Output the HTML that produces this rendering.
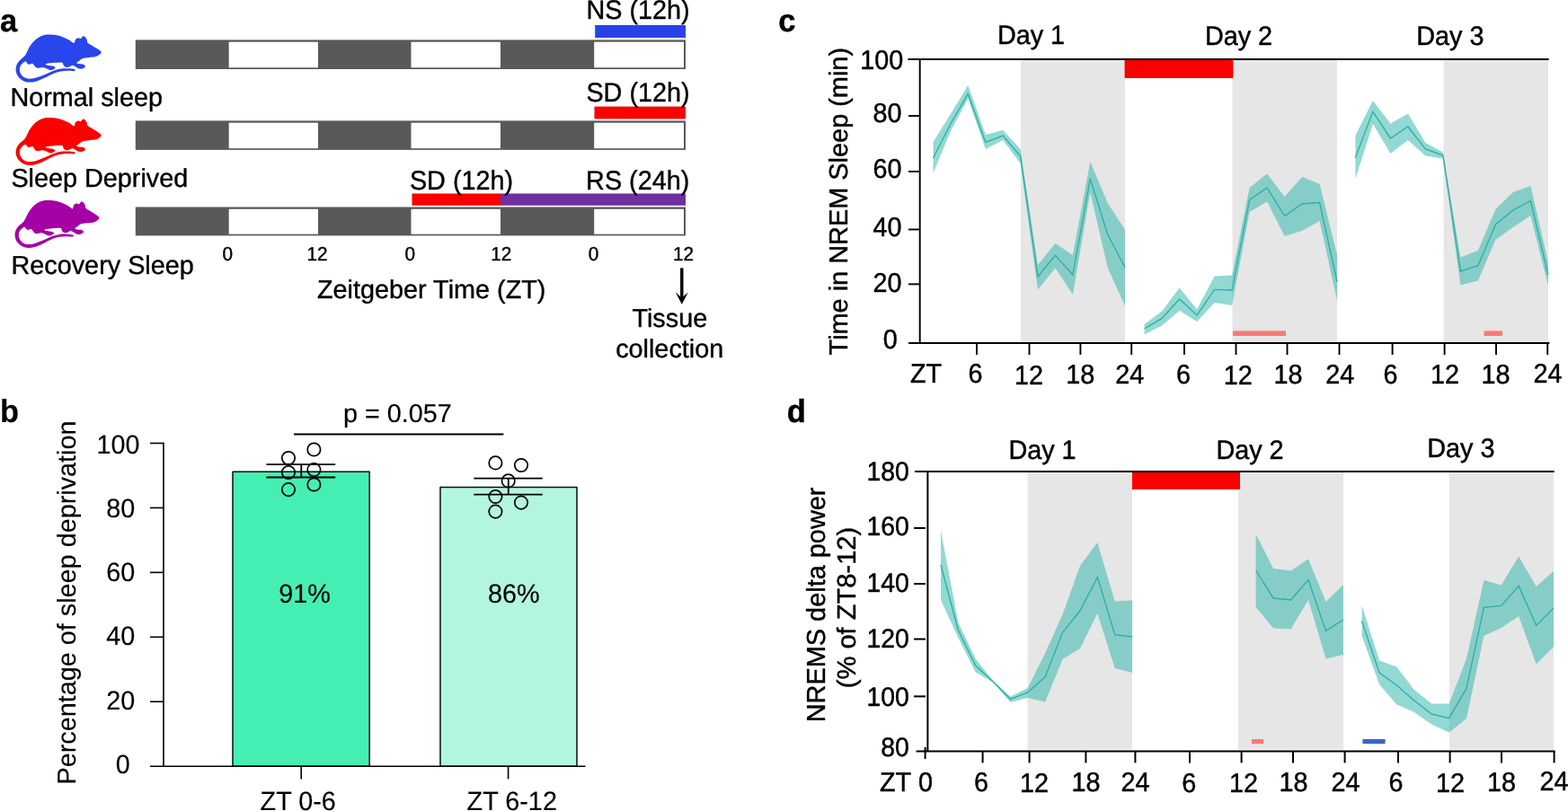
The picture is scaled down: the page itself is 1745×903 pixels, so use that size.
<!DOCTYPE html>
<html lang="en"><head><meta charset="utf-8"><title>Sleep deprivation figure</title>
<style>
html,body{margin:0;padding:0;background:#fff;}
body{width:1745px;height:903px;overflow:hidden;}
svg{display:block;}
text{font-family:"Liberation Sans", sans-serif;fill:#000;stroke:#000;stroke-width:0.38px;stroke-linejoin:round;text-rendering:geometricPrecision;}
#panel-b text{stroke-width:0.15px;}
#panel-c text,#panel-d text{stroke-width:0.45px;}
</style></head><body>
<svg width="1745" height="903" viewBox="0 0 1745 903">
<rect x="0" y="0" width="1745" height="903" fill="#fff"/>
<g id="panel-a">
<text font-size="34.5" text-anchor="start" font-weight="bold" transform="translate(0 35) scale(1 1.03)">a</text>
<rect x="150.80" y="44.40" width="612.20" height="32.60" fill="#595959"/>
<rect x="254.70" y="46.70" width="99.30" height="28.60" fill="#fff"/>
<rect x="457.50" y="46.70" width="99.50" height="28.60" fill="#fff"/>
<rect x="661.20" y="46.70" width="99.80" height="28.60" fill="#fff"/>
<rect x="150.80" y="134.40" width="612.20" height="32.50" fill="#595959"/>
<rect x="254.70" y="136.70" width="99.30" height="28.50" fill="#fff"/>
<rect x="457.50" y="136.70" width="99.50" height="28.50" fill="#fff"/>
<rect x="661.20" y="136.70" width="99.80" height="28.50" fill="#fff"/>
<rect x="150.80" y="230.50" width="612.20" height="31.90" fill="#595959"/>
<rect x="254.70" y="232.80" width="99.30" height="27.90" fill="#fff"/>
<rect x="457.50" y="232.80" width="99.50" height="27.90" fill="#fff"/>
<rect x="661.20" y="232.80" width="99.80" height="27.90" fill="#fff"/>
<path d="M1622.0 355.0C1617.8 337.5 1585.3 318.3 1560.0 300.0C1534.7 281.7 1500.0 263.3 1470.0 245.0C1440.0 226.7 1397.0 207.5 1380.0 190.0C1363.0 172.5 1374.7 156.7 1368.0 140.0C1361.3 123.3 1351.3 102.0 1340.0 90.0C1328.7 78.0 1312.0 67.2 1300.0 68.0C1288.0 68.8 1275.0 87.7 1268.0 95.0C1261.0 102.3 1268.5 111.2 1258.0 112.0C1247.5 112.8 1221.3 97.0 1205.0 100.0C1188.7 103.0 1171.7 114.2 1160.0 130.0C1148.3 145.8 1151.7 192.5 1135.0 195.0C1118.3 197.5 1089.2 161.7 1060.0 145.0C1030.8 128.3 995.0 109.5 960.0 95.0C925.0 80.5 890.0 66.8 850.0 58.0C810.0 49.2 761.7 43.3 720.0 42.0C678.3 40.7 636.7 41.7 600.0 50.0C563.3 58.3 531.7 72.8 500.0 92.0C468.3 111.2 436.7 137.8 410.0 165.0C383.3 192.2 360.0 223.3 340.0 255.0C320.0 286.7 305.0 326.7 290.0 355.0C275.0 383.3 270.0 401.7 250.0 425.0C230.0 448.3 193.0 470.8 170.0 495.0C147.0 519.2 125.3 542.5 112.0 570.0C98.7 597.5 90.7 630.0 90.0 660.0C89.3 690.0 96.7 723.0 108.0 750.0C119.3 777.0 137.7 801.5 158.0 822.0C178.3 842.5 201.3 860.7 230.0 873.0C258.7 885.3 293.3 894.5 330.0 896.0C366.7 897.5 405.0 894.7 450.0 882.0C495.0 869.3 545.0 845.0 600.0 820.0C655.0 795.0 730.0 752.0 780.0 732.0C830.0 712.0 860.0 707.0 900.0 700.0C940.0 693.0 979.7 691.0 1020.0 690.0C1060.3 689.0 1121.7 698.7 1142.0 694.0C1162.3 689.3 1162.3 669.3 1142.0 662.0C1121.7 654.7 1060.3 651.3 1020.0 650.0C979.7 648.7 940.0 648.3 900.0 654.0C860.0 659.7 823.3 668.8 780.0 684.0C736.7 699.2 690.0 724.3 640.0 745.0C590.0 765.7 530.0 793.2 480.0 808.0C430.0 822.8 380.0 834.0 340.0 834.0C300.0 834.0 266.3 822.3 240.0 808.0C213.7 793.7 195.3 769.3 182.0 748.0C168.7 726.7 160.3 706.3 160.0 680.0C159.7 653.7 163.0 616.3 180.0 590.0C197.0 563.7 242.8 527.0 262.0 522.0C281.2 517.0 282.8 551.2 295.0 560.0C307.2 568.8 321.7 575.0 335.0 575.0C348.3 575.0 363.8 560.8 375.0 560.0C386.2 559.2 391.2 559.7 402.0 570.0C412.8 580.3 426.2 610.0 440.0 622.0C453.8 634.0 465.0 641.0 485.0 642.0C505.0 643.0 537.5 628.0 560.0 628.0C582.5 628.0 594.2 633.3 620.0 642.0C645.8 650.7 685.3 680.3 715.0 680.0C744.7 679.7 790.2 652.3 798.0 640.0C805.8 627.7 780.0 613.5 762.0 606.0C744.0 598.5 711.2 598.8 690.0 595.0C668.8 591.2 643.3 588.3 635.0 583.0C626.7 577.7 615.8 569.2 640.0 563.0C664.2 556.8 733.3 549.3 780.0 546.0C826.7 542.7 892.5 535.7 920.0 543.0C947.5 550.3 934.2 576.5 945.0 590.0C955.8 603.5 969.2 618.7 985.0 624.0C1000.8 629.3 1023.3 626.0 1040.0 622.0C1056.7 618.0 1072.5 604.7 1085.0 600.0C1097.5 595.3 1101.7 590.3 1115.0 594.0C1128.3 597.7 1145.0 612.0 1165.0 622.0C1185.0 632.0 1211.7 650.3 1235.0 654.0C1258.3 657.7 1288.0 651.7 1305.0 644.0C1322.0 636.3 1337.0 619.3 1337.0 608.0C1337.0 596.7 1321.2 582.3 1305.0 576.0C1288.8 569.7 1259.2 573.0 1240.0 570.0C1220.8 567.0 1199.7 562.5 1190.0 558.0C1180.3 553.5 1175.3 551.0 1182.0 543.0C1188.7 535.0 1212.8 522.2 1230.0 510.0C1247.2 497.8 1256.7 480.0 1285.0 470.0C1313.3 460.0 1362.5 455.0 1400.0 450.0C1437.5 445.0 1479.2 447.5 1510.0 440.0C1540.8 432.5 1566.3 419.2 1585.0 405.0C1603.7 390.8 1626.2 372.5 1622.0 355.0Z" fill="#2846EB" transform="translate(12 36) scale(0.06203 0.06203)"/>
<path d="M1622.0 355.0C1617.8 337.5 1585.3 318.3 1560.0 300.0C1534.7 281.7 1500.0 263.3 1470.0 245.0C1440.0 226.7 1397.0 207.5 1380.0 190.0C1363.0 172.5 1374.7 156.7 1368.0 140.0C1361.3 123.3 1351.3 102.0 1340.0 90.0C1328.7 78.0 1312.0 67.2 1300.0 68.0C1288.0 68.8 1275.0 87.7 1268.0 95.0C1261.0 102.3 1268.5 111.2 1258.0 112.0C1247.5 112.8 1221.3 97.0 1205.0 100.0C1188.7 103.0 1171.7 114.2 1160.0 130.0C1148.3 145.8 1151.7 192.5 1135.0 195.0C1118.3 197.5 1089.2 161.7 1060.0 145.0C1030.8 128.3 995.0 109.5 960.0 95.0C925.0 80.5 890.0 66.8 850.0 58.0C810.0 49.2 761.7 43.3 720.0 42.0C678.3 40.7 636.7 41.7 600.0 50.0C563.3 58.3 531.7 72.8 500.0 92.0C468.3 111.2 436.7 137.8 410.0 165.0C383.3 192.2 360.0 223.3 340.0 255.0C320.0 286.7 305.0 326.7 290.0 355.0C275.0 383.3 270.0 401.7 250.0 425.0C230.0 448.3 193.0 470.8 170.0 495.0C147.0 519.2 125.3 542.5 112.0 570.0C98.7 597.5 90.7 630.0 90.0 660.0C89.3 690.0 96.7 723.0 108.0 750.0C119.3 777.0 137.7 801.5 158.0 822.0C178.3 842.5 201.3 860.7 230.0 873.0C258.7 885.3 293.3 894.5 330.0 896.0C366.7 897.5 405.0 894.7 450.0 882.0C495.0 869.3 545.0 845.0 600.0 820.0C655.0 795.0 730.0 752.0 780.0 732.0C830.0 712.0 860.0 707.0 900.0 700.0C940.0 693.0 979.7 691.0 1020.0 690.0C1060.3 689.0 1121.7 698.7 1142.0 694.0C1162.3 689.3 1162.3 669.3 1142.0 662.0C1121.7 654.7 1060.3 651.3 1020.0 650.0C979.7 648.7 940.0 648.3 900.0 654.0C860.0 659.7 823.3 668.8 780.0 684.0C736.7 699.2 690.0 724.3 640.0 745.0C590.0 765.7 530.0 793.2 480.0 808.0C430.0 822.8 380.0 834.0 340.0 834.0C300.0 834.0 266.3 822.3 240.0 808.0C213.7 793.7 195.3 769.3 182.0 748.0C168.7 726.7 160.3 706.3 160.0 680.0C159.7 653.7 163.0 616.3 180.0 590.0C197.0 563.7 242.8 527.0 262.0 522.0C281.2 517.0 282.8 551.2 295.0 560.0C307.2 568.8 321.7 575.0 335.0 575.0C348.3 575.0 363.8 560.8 375.0 560.0C386.2 559.2 391.2 559.7 402.0 570.0C412.8 580.3 426.2 610.0 440.0 622.0C453.8 634.0 465.0 641.0 485.0 642.0C505.0 643.0 537.5 628.0 560.0 628.0C582.5 628.0 594.2 633.3 620.0 642.0C645.8 650.7 685.3 680.3 715.0 680.0C744.7 679.7 790.2 652.3 798.0 640.0C805.8 627.7 780.0 613.5 762.0 606.0C744.0 598.5 711.2 598.8 690.0 595.0C668.8 591.2 643.3 588.3 635.0 583.0C626.7 577.7 615.8 569.2 640.0 563.0C664.2 556.8 733.3 549.3 780.0 546.0C826.7 542.7 892.5 535.7 920.0 543.0C947.5 550.3 934.2 576.5 945.0 590.0C955.8 603.5 969.2 618.7 985.0 624.0C1000.8 629.3 1023.3 626.0 1040.0 622.0C1056.7 618.0 1072.5 604.7 1085.0 600.0C1097.5 595.3 1101.7 590.3 1115.0 594.0C1128.3 597.7 1145.0 612.0 1165.0 622.0C1185.0 632.0 1211.7 650.3 1235.0 654.0C1258.3 657.7 1288.0 651.7 1305.0 644.0C1322.0 636.3 1337.0 619.3 1337.0 608.0C1337.0 596.7 1321.2 582.3 1305.0 576.0C1288.8 569.7 1259.2 573.0 1240.0 570.0C1220.8 567.0 1199.7 562.5 1190.0 558.0C1180.3 553.5 1175.3 551.0 1182.0 543.0C1188.7 535.0 1212.8 522.2 1230.0 510.0C1247.2 497.8 1256.7 480.0 1285.0 470.0C1313.3 460.0 1362.5 455.0 1400.0 450.0C1437.5 445.0 1479.2 447.5 1510.0 440.0C1540.8 432.5 1566.3 419.2 1585.0 405.0C1603.7 390.8 1626.2 372.5 1622.0 355.0Z" fill="#FA0000" transform="translate(12 128.3) scale(0.06203 0.06203)"/>
<path d="M1622.0 355.0C1617.8 337.5 1585.3 318.3 1560.0 300.0C1534.7 281.7 1500.0 263.3 1470.0 245.0C1440.0 226.7 1397.0 207.5 1380.0 190.0C1363.0 172.5 1374.7 156.7 1368.0 140.0C1361.3 123.3 1351.3 102.0 1340.0 90.0C1328.7 78.0 1312.0 67.2 1300.0 68.0C1288.0 68.8 1275.0 87.7 1268.0 95.0C1261.0 102.3 1268.5 111.2 1258.0 112.0C1247.5 112.8 1221.3 97.0 1205.0 100.0C1188.7 103.0 1171.7 114.2 1160.0 130.0C1148.3 145.8 1151.7 192.5 1135.0 195.0C1118.3 197.5 1089.2 161.7 1060.0 145.0C1030.8 128.3 995.0 109.5 960.0 95.0C925.0 80.5 890.0 66.8 850.0 58.0C810.0 49.2 761.7 43.3 720.0 42.0C678.3 40.7 636.7 41.7 600.0 50.0C563.3 58.3 531.7 72.8 500.0 92.0C468.3 111.2 436.7 137.8 410.0 165.0C383.3 192.2 360.0 223.3 340.0 255.0C320.0 286.7 305.0 326.7 290.0 355.0C275.0 383.3 270.0 401.7 250.0 425.0C230.0 448.3 193.0 470.8 170.0 495.0C147.0 519.2 125.3 542.5 112.0 570.0C98.7 597.5 90.7 630.0 90.0 660.0C89.3 690.0 96.7 723.0 108.0 750.0C119.3 777.0 137.7 801.5 158.0 822.0C178.3 842.5 201.3 860.7 230.0 873.0C258.7 885.3 293.3 894.5 330.0 896.0C366.7 897.5 405.0 894.7 450.0 882.0C495.0 869.3 545.0 845.0 600.0 820.0C655.0 795.0 730.0 752.0 780.0 732.0C830.0 712.0 860.0 707.0 900.0 700.0C940.0 693.0 979.7 691.0 1020.0 690.0C1060.3 689.0 1121.7 698.7 1142.0 694.0C1162.3 689.3 1162.3 669.3 1142.0 662.0C1121.7 654.7 1060.3 651.3 1020.0 650.0C979.7 648.7 940.0 648.3 900.0 654.0C860.0 659.7 823.3 668.8 780.0 684.0C736.7 699.2 690.0 724.3 640.0 745.0C590.0 765.7 530.0 793.2 480.0 808.0C430.0 822.8 380.0 834.0 340.0 834.0C300.0 834.0 266.3 822.3 240.0 808.0C213.7 793.7 195.3 769.3 182.0 748.0C168.7 726.7 160.3 706.3 160.0 680.0C159.7 653.7 163.0 616.3 180.0 590.0C197.0 563.7 242.8 527.0 262.0 522.0C281.2 517.0 282.8 551.2 295.0 560.0C307.2 568.8 321.7 575.0 335.0 575.0C348.3 575.0 363.8 560.8 375.0 560.0C386.2 559.2 391.2 559.7 402.0 570.0C412.8 580.3 426.2 610.0 440.0 622.0C453.8 634.0 465.0 641.0 485.0 642.0C505.0 643.0 537.5 628.0 560.0 628.0C582.5 628.0 594.2 633.3 620.0 642.0C645.8 650.7 685.3 680.3 715.0 680.0C744.7 679.7 790.2 652.3 798.0 640.0C805.8 627.7 780.0 613.5 762.0 606.0C744.0 598.5 711.2 598.8 690.0 595.0C668.8 591.2 643.3 588.3 635.0 583.0C626.7 577.7 615.8 569.2 640.0 563.0C664.2 556.8 733.3 549.3 780.0 546.0C826.7 542.7 892.5 535.7 920.0 543.0C947.5 550.3 934.2 576.5 945.0 590.0C955.8 603.5 969.2 618.7 985.0 624.0C1000.8 629.3 1023.3 626.0 1040.0 622.0C1056.7 618.0 1072.5 604.7 1085.0 600.0C1097.5 595.3 1101.7 590.3 1115.0 594.0C1128.3 597.7 1145.0 612.0 1165.0 622.0C1185.0 632.0 1211.7 650.3 1235.0 654.0C1258.3 657.7 1288.0 651.7 1305.0 644.0C1322.0 636.3 1337.0 619.3 1337.0 608.0C1337.0 596.7 1321.2 582.3 1305.0 576.0C1288.8 569.7 1259.2 573.0 1240.0 570.0C1220.8 567.0 1199.7 562.5 1190.0 558.0C1180.3 553.5 1175.3 551.0 1182.0 543.0C1188.7 535.0 1212.8 522.2 1230.0 510.0C1247.2 497.8 1256.7 480.0 1285.0 470.0C1313.3 460.0 1362.5 455.0 1400.0 450.0C1437.5 445.0 1479.2 447.5 1510.0 440.0C1540.8 432.5 1566.3 419.2 1585.0 405.0C1603.7 390.8 1626.2 372.5 1622.0 355.0Z" fill="#A500A5" transform="translate(11 220.3) scale(0.06135 0.06211)"/>
<text x="11.4" y="118.1" font-size="28.8" text-anchor="start" font-weight="normal">Normal sleep</text>
<text x="12.4" y="208.4" font-size="28.8" text-anchor="start" font-weight="normal">Sleep Deprived</text>
<text x="12.5" y="305.4" font-size="28.8" text-anchor="start" font-weight="normal">Recovery Sleep</text>
<rect x="662.20" y="28.00" width="100.80" height="14.00" fill="#2941E8"/>
<rect x="661.50" y="118.60" width="101.50" height="13.80" fill="#FA0000"/>
<rect x="458.50" y="215.50" width="98.50" height="13.30" fill="#FA0000"/>
<rect x="557.00" y="215.50" width="206.00" height="13.30" fill="#7030A0"/>
<text font-size="28.8" text-anchor="middle" font-weight="normal" transform="translate(710 21.4) scale(1 1.03)">NS (12h)</text>
<text font-size="28.8" text-anchor="middle" font-weight="normal" transform="translate(710 113) scale(1 1.04)">SD (12h)</text>
<text font-size="28.8" text-anchor="middle" font-weight="normal" transform="translate(513.5 210.8) scale(1 1.04)">SD (12h)</text>
<text font-size="28.8" text-anchor="middle" font-weight="normal" transform="translate(709.7 210.8) scale(1 1.04)">RS (24h)</text>
<text font-size="20.8" text-anchor="middle" font-weight="normal" transform="translate(253.4 290) scale(1 1.04)">0</text>
<text font-size="20.8" text-anchor="middle" font-weight="normal" transform="translate(353 290) scale(1 1.04)">12</text>
<text font-size="20.8" text-anchor="middle" font-weight="normal" transform="translate(456.4 290) scale(1 1.04)">0</text>
<text font-size="20.8" text-anchor="middle" font-weight="normal" transform="translate(557.8 290) scale(1 1.04)">12</text>
<text font-size="20.8" text-anchor="middle" font-weight="normal" transform="translate(660.6 290) scale(1 1.04)">0</text>
<text font-size="20.8" text-anchor="middle" font-weight="normal" transform="translate(760.5 290) scale(1 1.04)">12</text>
<text x="480.2" y="332.4" font-size="28.8" text-anchor="middle" font-weight="normal">Zeitgeber Time (ZT)</text>
<line x1="758.80" y1="298.40" x2="758.80" y2="333.00" stroke="#000" stroke-width="3.4"/>
<path d="M751.8 325.6 L758.8 331.5 L765.8 325.6 L758.8 338.8 Z" fill="#000"/>
<text x="745.3" y="363.5" font-size="28.8" text-anchor="middle" font-weight="normal">Tissue</text>
<text x="745.2" y="397.7" font-size="28.8" text-anchor="middle" font-weight="normal">collection</text>
</g>
<g id="panel-b">
<text font-size="34.5" text-anchor="start" font-weight="bold" transform="translate(0.1 469.6) scale(1 1.04)">b</text>
<rect x="259" y="525.2" width="152.2" height="328.00" fill="#45EFB3" stroke="#0a0f0d" stroke-width="1.5" stroke-linejoin="round"/>
<rect x="490" y="542.6" width="152" height="310.60" fill="#B3F6DF" stroke="#0a0f0d" stroke-width="1.5" stroke-linejoin="round"/>
<line x1="182.00" y1="492.70" x2="182.00" y2="854.00" stroke="#000" stroke-width="1.6"/>
<line x1="167.00" y1="853.20" x2="651.50" y2="853.20" stroke="#000" stroke-width="1.6"/>
<text font-size="28.8" text-anchor="end" font-weight="normal" transform="translate(144.8 861.0) scale(1 1.025)">0</text>
<line x1="167.00" y1="781.26" x2="182.00" y2="781.26" stroke="#000" stroke-width="1.6"/>
<text font-size="28.8" text-anchor="end" font-weight="normal" transform="translate(150.2 789.7) scale(1 1.025)">20</text>
<line x1="167.00" y1="709.32" x2="182.00" y2="709.32" stroke="#000" stroke-width="1.6"/>
<text font-size="28.8" text-anchor="end" font-weight="normal" transform="translate(150.2 718.4) scale(1 1.025)">40</text>
<line x1="167.00" y1="637.38" x2="182.00" y2="637.38" stroke="#000" stroke-width="1.6"/>
<text font-size="28.8" text-anchor="end" font-weight="normal" transform="translate(150.2 647.1) scale(1 1.025)">60</text>
<line x1="167.00" y1="565.44" x2="182.00" y2="565.44" stroke="#000" stroke-width="1.6"/>
<text font-size="28.8" text-anchor="end" font-weight="normal" transform="translate(150.2 575.8) scale(1 1.025)">80</text>
<line x1="167.00" y1="493.50" x2="182.00" y2="493.50" stroke="#000" stroke-width="1.6"/>
<text font-size="28.8" text-anchor="end" font-weight="normal" transform="translate(155.6 504.5) scale(1 1.025)">100</text>
<line x1="335.20" y1="853.20" x2="335.20" y2="867.40" stroke="#000" stroke-width="1.6"/>
<text font-size="28.8" text-anchor="start" font-weight="normal" transform="translate(289.6 901.6) scale(1 1.025)">ZT 0-6</text>
<line x1="565.60" y1="853.20" x2="565.60" y2="867.40" stroke="#000" stroke-width="1.6"/>
<text font-size="28.8" text-anchor="start" font-weight="normal" transform="translate(519.6 901.6) scale(1 1.025)">ZT 6-12</text>
<text x="84.2" y="671" font-size="28.8" text-anchor="middle" font-weight="normal" transform="rotate(-90 84.2 671)">Percentage of sleep deprivation</text>
<text font-size="28.8" text-anchor="middle" font-weight="normal" transform="translate(339 671) scale(1 1.025)">91%</text>
<text font-size="28.8" text-anchor="middle" font-weight="normal" transform="translate(571.8 671) scale(1 1.025)">86%</text>
<text x="442.4" y="470" font-size="28.8" text-anchor="middle" font-weight="normal">p = 0.057</text>
<line x1="327.00" y1="483.50" x2="560.40" y2="483.50" stroke="#000" stroke-width="2"/>
<line x1="296.40" y1="517.10" x2="373.20" y2="517.10" stroke="#000" stroke-width="1.8"/>
<line x1="296.40" y1="531.50" x2="373.20" y2="531.50" stroke="#000" stroke-width="1.8"/>
<line x1="335.30" y1="517.10" x2="335.30" y2="531.50" stroke="#000" stroke-width="1.8"/>
<line x1="527.30" y1="532.70" x2="603.80" y2="532.70" stroke="#000" stroke-width="1.8"/>
<line x1="527.30" y1="550.70" x2="603.80" y2="550.70" stroke="#000" stroke-width="1.8"/>
<line x1="565.80" y1="532.70" x2="565.80" y2="550.70" stroke="#000" stroke-width="1.8"/>
<circle cx="321" cy="510" r="7.2" fill="none" stroke="#000" stroke-width="1.7"/>
<circle cx="349.4" cy="500.5" r="7.2" fill="none" stroke="#000" stroke-width="1.7"/>
<circle cx="321" cy="526" r="7.2" fill="none" stroke="#000" stroke-width="1.7"/>
<circle cx="349.4" cy="523.1" r="7.2" fill="none" stroke="#000" stroke-width="1.7"/>
<circle cx="321" cy="545.1" r="7.2" fill="none" stroke="#000" stroke-width="1.7"/>
<circle cx="349.4" cy="539.5" r="7.2" fill="none" stroke="#000" stroke-width="1.7"/>
<circle cx="551.4" cy="515.4" r="7.2" fill="none" stroke="#000" stroke-width="1.7"/>
<circle cx="580" cy="518" r="7.2" fill="none" stroke="#000" stroke-width="1.7"/>
<circle cx="565.7" cy="535.4" r="7.2" fill="none" stroke="#000" stroke-width="1.7"/>
<circle cx="551.4" cy="553" r="7.2" fill="none" stroke="#000" stroke-width="1.7"/>
<circle cx="580" cy="559.6" r="7.2" fill="none" stroke="#000" stroke-width="1.7"/>
<circle cx="551.4" cy="569.6" r="7.2" fill="none" stroke="#000" stroke-width="1.7"/>
</g>
<g id="panel-c">
<text font-size="34.5" text-anchor="start" font-weight="bold" transform="translate(866.2 35.3) scale(1 1.03)">c</text>
<rect x="1136.00" y="67.00" width="116.00" height="314.50" fill="#E6E6E6"/>
<rect x="1371.50" y="67.00" width="116.50" height="314.50" fill="#E6E6E6"/>
<rect x="1606.50" y="67.00" width="116.50" height="314.50" fill="#E6E6E6"/>
<rect x="1251.60" y="66.50" width="120.80" height="20.50" fill="#FA0000"/>
<polygon points="1038.5,158.0 1057.9,127.0 1077.3,95.0 1096.8,150.0 1116.2,145.0 1135.6,166.0 1155.0,295.0 1174.4,271.0 1193.9,284.0 1213.3,180.0 1232.7,226.0 1252.1,256.0 1252.1,341.0 1232.7,298.0 1213.3,214.0 1193.9,328.0 1174.4,298.6 1155.0,322.4 1135.6,182.0 1116.2,156.0 1096.8,166.0 1077.3,110.0 1057.9,146.0 1038.5,193.0" fill="#28B4A8" fill-opacity="0.5"/>
<polyline points="1038.5,176.0 1057.9,138.0 1077.3,104.4 1096.8,158.4 1116.2,151.0 1135.6,174.0 1155.0,308.0 1174.4,284.4 1193.9,306.0 1213.3,199.0 1232.7,261.0 1252.1,298.0" fill="none" stroke="#2FB0A6" stroke-width="1.4" stroke-linejoin="miter"/>
<polygon points="1273.6,361.0 1293.1,346.4 1312.6,320.4 1332.1,344.4 1351.6,307.6 1371.1,306.4 1390.6,209.0 1410.1,193.6 1429.6,219.0 1449.1,197.0 1468.6,205.0 1488.1,284.0 1488.1,335.0 1468.6,246.0 1449.1,257.0 1429.6,263.0 1410.1,224.4 1390.6,236.0 1371.1,340.0 1351.6,337.0 1332.1,358.0 1312.6,346.0 1293.1,362.4 1273.6,372.4" fill="#28B4A8" fill-opacity="0.5"/>
<polyline points="1273.6,366.0 1293.1,354.4 1312.6,333.0 1332.1,351.0 1351.6,322.4 1371.1,323.0 1390.6,222.4 1410.1,209.0 1429.6,240.6 1449.1,227.0 1468.6,225.6 1488.1,314.0" fill="none" stroke="#2FB0A6" stroke-width="1.4" stroke-linejoin="miter"/>
<polygon points="1508.4,151.0 1527.9,112.0 1547.4,137.6 1566.9,126.4 1586.4,159.0 1605.9,169.6 1625.4,286.4 1644.9,279.0 1664.4,233.0 1683.9,214.0 1703.4,207.0 1722.9,292.0 1722.9,318.0 1703.4,240.0 1683.9,253.0 1664.4,267.0 1644.9,312.4 1625.4,317.6 1605.9,176.4 1586.4,173.6 1566.9,156.0 1547.4,171.0 1527.9,138.0 1508.4,199.0" fill="#28B4A8" fill-opacity="0.5"/>
<polyline points="1508.4,175.6 1527.9,124.4 1547.4,154.0 1566.9,141.0 1586.4,166.0 1605.9,173.0 1625.4,302.0 1644.9,295.6 1664.4,250.0 1683.9,234.0 1703.4,223.6 1722.9,306.0" fill="none" stroke="#2FB0A6" stroke-width="1.4" stroke-linejoin="miter"/>
<rect x="1372.00" y="368.40" width="59.00" height="5.60" fill="#F87B75"/>
<rect x="1651.60" y="368.40" width="20.40" height="5.60" fill="#F87B75"/>
<line x1="1010.40" y1="66.00" x2="1723.60" y2="66.00" stroke="#000" stroke-width="1.9"/>
<line x1="1023.70" y1="66.00" x2="1023.70" y2="382.00" stroke="#000" stroke-width="1.9"/>
<line x1="1011.00" y1="382.00" x2="1724.40" y2="382.00" stroke="#000" stroke-width="2.1"/>
<text font-size="28.8" text-anchor="end" font-weight="normal" transform="translate(1005.2 77.4) scale(1 1.05)">100</text>
<line x1="1011.00" y1="129.00" x2="1024.00" y2="129.00" stroke="#000" stroke-width="1.9"/>
<text font-size="28.8" text-anchor="end" font-weight="normal" transform="translate(1003.6 136) scale(1 1.05)">80</text>
<line x1="1011.00" y1="191.00" x2="1024.00" y2="191.00" stroke="#000" stroke-width="1.9"/>
<text font-size="28.8" text-anchor="end" font-weight="normal" transform="translate(1003.6 198.2) scale(1 1.05)">60</text>
<line x1="1011.00" y1="255.50" x2="1024.00" y2="255.50" stroke="#000" stroke-width="1.9"/>
<text font-size="28.8" text-anchor="end" font-weight="normal" transform="translate(1003.6 263) scale(1 1.05)">40</text>
<line x1="1011.00" y1="316.40" x2="1024.00" y2="316.40" stroke="#000" stroke-width="1.9"/>
<text font-size="28.8" text-anchor="end" font-weight="normal" transform="translate(1003.6 325) scale(1 1.05)">20</text>
<text font-size="28.8" text-anchor="end" font-weight="normal" transform="translate(998.7 388) scale(1 1.05)">0</text>
<line x1="1087.00" y1="382.00" x2="1087.00" y2="395.00" stroke="#000" stroke-width="1.9"/>
<text font-size="28.8" text-anchor="middle" font-weight="normal" transform="translate(1085.5 426.3) scale(1 1.05)">6</text>
<line x1="1145.50" y1="382.00" x2="1145.50" y2="395.00" stroke="#000" stroke-width="1.9"/>
<text font-size="28.8" text-anchor="middle" font-weight="normal" transform="translate(1145 428) scale(1 1.05)">12</text>
<line x1="1202.40" y1="382.00" x2="1202.40" y2="395.00" stroke="#000" stroke-width="1.9"/>
<text font-size="28.8" text-anchor="middle" font-weight="normal" transform="translate(1202.2 426.6) scale(1 1.05)">18</text>
<line x1="1259.20" y1="382.00" x2="1259.20" y2="395.00" stroke="#000" stroke-width="1.9"/>
<text font-size="28.8" text-anchor="middle" font-weight="normal" transform="translate(1257.3 426.6) scale(1 1.05)">24</text>
<line x1="1318.00" y1="382.00" x2="1318.00" y2="395.00" stroke="#000" stroke-width="1.9"/>
<text font-size="28.8" text-anchor="middle" font-weight="normal" transform="translate(1317 426.7) scale(1 1.05)">6</text>
<line x1="1375.50" y1="382.00" x2="1375.50" y2="395.00" stroke="#000" stroke-width="1.9"/>
<text font-size="28.8" text-anchor="middle" font-weight="normal" transform="translate(1377.8 428) scale(1 1.05)">12</text>
<line x1="1432.50" y1="382.00" x2="1432.50" y2="395.00" stroke="#000" stroke-width="1.9"/>
<text font-size="28.8" text-anchor="middle" font-weight="normal" transform="translate(1433.6 426.7) scale(1 1.05)">18</text>
<line x1="1490.50" y1="382.00" x2="1490.50" y2="395.00" stroke="#000" stroke-width="1.9"/>
<text font-size="28.8" text-anchor="middle" font-weight="normal" transform="translate(1491.2 426.7) scale(1 1.05)">24</text>
<line x1="1549.60" y1="382.00" x2="1549.60" y2="395.00" stroke="#000" stroke-width="1.9"/>
<text font-size="28.8" text-anchor="middle" font-weight="normal" transform="translate(1547.5 426.7) scale(1 1.05)">6</text>
<line x1="1607.60" y1="382.00" x2="1607.60" y2="395.00" stroke="#000" stroke-width="1.9"/>
<text font-size="28.8" text-anchor="middle" font-weight="normal" transform="translate(1607.9 427) scale(1 1.05)">12</text>
<line x1="1665.00" y1="382.00" x2="1665.00" y2="395.00" stroke="#000" stroke-width="1.9"/>
<text font-size="28.8" text-anchor="middle" font-weight="normal" transform="translate(1664.6 426.6) scale(1 1.05)">18</text>
<line x1="1722.20" y1="382.00" x2="1722.20" y2="395.00" stroke="#000" stroke-width="1.9"/>
<text font-size="28.8" text-anchor="middle" font-weight="normal" transform="translate(1722.6 426.2) scale(1 1.05)">24</text>
<text font-size="28.8" text-anchor="start" font-weight="normal" transform="translate(1013 426.3) scale(1 1.05)">ZT</text>
<text x="943" y="224.2" font-size="28.9" text-anchor="middle" font-weight="normal" transform="rotate(-90 943 224.2)">Time in NREM Sleep (min)</text>
<text font-size="28.8" text-anchor="middle" font-weight="normal" transform="translate(1147.5 49.4) scale(1 1.03)">Day 1</text>
<text font-size="28.8" text-anchor="middle" font-weight="normal" transform="translate(1378.5 50) scale(1 1.03)">Day 2</text>
<text font-size="28.8" text-anchor="middle" font-weight="normal" transform="translate(1613.8 50) scale(1 1.03)">Day 3</text>
</g>
<g id="panel-d">
<text font-size="34.5" text-anchor="start" font-weight="bold" transform="translate(875.8 469.6) scale(1 1.04)">d</text>
<rect x="1143.50" y="526.00" width="116.50" height="308.50" fill="#E6E6E6"/>
<rect x="1378.00" y="526.00" width="117.00" height="308.50" fill="#E6E6E6"/>
<rect x="1613.00" y="526.00" width="116.00" height="308.50" fill="#E6E6E6"/>
<rect x="1260.00" y="525.50" width="120.00" height="19.50" fill="#FA0000"/>
<polygon points="1047.0,590.4 1066.4,693.0 1085.7,733.6 1105.1,758.0 1124.5,775.6 1143.8,766.0 1163.2,727.0 1182.6,684.0 1202.0,630.0 1221.3,604.0 1240.7,669.6 1260.1,668.4 1260.1,749.0 1240.7,744.0 1221.3,683.0 1202.0,722.0 1182.6,734.0 1163.2,781.6 1143.8,777.0 1124.5,782.0 1105.1,759.6 1085.7,748.4 1066.4,710.0 1047.0,668.0" fill="#28B4A8" fill-opacity="0.5"/>
<polyline points="1047.0,629.0 1066.4,701.5 1085.7,741.0 1105.1,759.0 1124.5,778.4 1143.8,771.0 1163.2,753.6 1182.6,704.0 1202.0,680.0 1221.3,642.6 1240.7,706.6 1260.1,709.0" fill="none" stroke="#2FB0A6" stroke-width="1.4" stroke-linejoin="miter"/>
<polygon points="1397.6,594.4 1417.1,633.0 1436.6,635.6 1456.0,622.4 1475.5,670.0 1495.0,651.0 1495.0,729.0 1475.5,733.6 1456.0,668.0 1436.6,700.6 1417.1,699.4 1397.6,676.0" fill="#28B4A8" fill-opacity="0.5"/>
<polyline points="1397.6,635.0 1417.1,666.0 1436.6,668.0 1456.0,645.6 1475.5,702.4 1495.0,690.0" fill="none" stroke="#2FB0A6" stroke-width="1.4" stroke-linejoin="miter"/>
<polygon points="1515.6,674.0 1535.0,735.6 1554.4,742.4 1573.8,768.0 1593.2,783.4 1612.6,783.6 1632.0,733.6 1651.4,646.0 1670.8,651.6 1690.2,619.6 1709.6,653.0 1729.0,636.0 1729.0,720.0 1709.6,739.6 1690.2,686.0 1670.8,699.0 1651.4,708.0 1632.0,800.0 1612.6,815.6 1593.2,806.4 1573.8,793.0 1554.4,784.4 1535.0,762.0 1515.6,708.0" fill="#28B4A8" fill-opacity="0.5"/>
<polyline points="1515.6,691.6 1535.0,749.0 1554.4,763.0 1573.8,780.0 1593.2,795.0 1612.6,799.6 1632.0,766.4 1651.4,676.4 1670.8,674.4 1690.2,652.4 1709.6,696.4 1729.0,677.0" fill="none" stroke="#2FB0A6" stroke-width="1.4" stroke-linejoin="miter"/>
<rect x="1393.00" y="823.00" width="13.00" height="5.20" fill="#F87B75"/>
<rect x="1516.40" y="823.00" width="25.20" height="5.20" fill="#3C64C8"/>
<line x1="1018.00" y1="525.00" x2="1729.60" y2="525.00" stroke="#000" stroke-width="2"/>
<line x1="1032.40" y1="525.00" x2="1032.40" y2="836.60" stroke="#000" stroke-width="2"/>
<line x1="1019.60" y1="836.60" x2="1730.60" y2="836.60" stroke="#000" stroke-width="2"/>
<text font-size="28.4" text-anchor="end" font-weight="normal" transform="translate(1011.8 535) scale(1 1.05)">180</text>
<line x1="1017.00" y1="588.00" x2="1030.00" y2="588.00" stroke="#000" stroke-width="2"/>
<text font-size="28.4" text-anchor="end" font-weight="normal" transform="translate(1011.8 596) scale(1 1.05)">160</text>
<line x1="1017.00" y1="650.00" x2="1030.00" y2="650.00" stroke="#000" stroke-width="2"/>
<text font-size="28.4" text-anchor="end" font-weight="normal" transform="translate(1011.8 659) scale(1 1.05)">140</text>
<line x1="1017.00" y1="711.60" x2="1030.00" y2="711.60" stroke="#000" stroke-width="2"/>
<text font-size="28.4" text-anchor="end" font-weight="normal" transform="translate(1011.8 721) scale(1 1.05)">120</text>
<line x1="1017.00" y1="775.40" x2="1030.00" y2="775.40" stroke="#000" stroke-width="2"/>
<text font-size="28.4" text-anchor="end" font-weight="normal" transform="translate(1011.8 786) scale(1 1.05)">100</text>
<text font-size="28.4" text-anchor="end" font-weight="normal" transform="translate(1011.8 842) scale(1 1.05)">80</text>
<line x1="1029.60" y1="832.00" x2="1029.60" y2="845.00" stroke="#000" stroke-width="2"/>
<text font-size="28.8" text-anchor="middle" font-weight="normal" transform="translate(1030 881) scale(1 1.05)">0</text>
<line x1="1093.60" y1="836.60" x2="1093.60" y2="849.40" stroke="#000" stroke-width="2"/>
<text font-size="28.8" text-anchor="middle" font-weight="normal" transform="translate(1092.1 881) scale(1 1.05)">6</text>
<line x1="1145.60" y1="836.60" x2="1145.60" y2="849.40" stroke="#000" stroke-width="2"/>
<text font-size="28.8" text-anchor="middle" font-weight="normal" transform="translate(1151 882.4) scale(1 1.05)">12</text>
<line x1="1208.40" y1="836.60" x2="1208.40" y2="849.40" stroke="#000" stroke-width="2"/>
<text font-size="28.8" text-anchor="middle" font-weight="normal" transform="translate(1208.6 881) scale(1 1.05)">18</text>
<line x1="1263.40" y1="836.60" x2="1263.40" y2="849.40" stroke="#000" stroke-width="2"/>
<text font-size="28.8" text-anchor="middle" font-weight="normal" transform="translate(1263.4 881) scale(1 1.05)">24</text>
<line x1="1324.00" y1="836.60" x2="1324.00" y2="849.40" stroke="#000" stroke-width="2"/>
<text font-size="28.8" text-anchor="middle" font-weight="normal" transform="translate(1323.3 882) scale(1 1.05)">6</text>
<line x1="1381.60" y1="836.60" x2="1381.60" y2="849.40" stroke="#000" stroke-width="2"/>
<text font-size="28.8" text-anchor="middle" font-weight="normal" transform="translate(1384 882.4) scale(1 1.05)">12</text>
<line x1="1439.00" y1="836.60" x2="1439.00" y2="849.40" stroke="#000" stroke-width="2"/>
<text font-size="28.8" text-anchor="middle" font-weight="normal" transform="translate(1439.4 881.4) scale(1 1.05)">18</text>
<line x1="1496.60" y1="836.60" x2="1496.60" y2="849.40" stroke="#000" stroke-width="2"/>
<text font-size="28.8" text-anchor="middle" font-weight="normal" transform="translate(1497.4 881.4) scale(1 1.05)">24</text>
<line x1="1556.00" y1="836.60" x2="1556.00" y2="849.40" stroke="#000" stroke-width="2"/>
<text font-size="28.8" text-anchor="middle" font-weight="normal" transform="translate(1553.5 881.4) scale(1 1.05)">6</text>
<line x1="1613.60" y1="836.60" x2="1613.60" y2="849.40" stroke="#000" stroke-width="2"/>
<text font-size="28.8" text-anchor="middle" font-weight="normal" transform="translate(1614 882.4) scale(1 1.05)">12</text>
<line x1="1671.00" y1="836.60" x2="1671.00" y2="849.40" stroke="#000" stroke-width="2"/>
<text font-size="28.8" text-anchor="middle" font-weight="normal" transform="translate(1671 881.4) scale(1 1.05)">18</text>
<line x1="1729.60" y1="836.60" x2="1729.60" y2="849.40" stroke="#000" stroke-width="2"/>
<text font-size="28.8" text-anchor="middle" font-weight="normal" transform="translate(1729.4 880) scale(1 1.05)">24</text>
<text font-size="28.8" text-anchor="start" font-weight="normal" transform="translate(979 881) scale(1 1.05)">ZT</text>
<text x="918" y="673.4" font-size="28.9" text-anchor="middle" font-weight="normal" transform="rotate(-90 918 673.4)">NREMS delta power</text>
<text x="952.4" y="676.5" font-size="29.1" text-anchor="middle" font-weight="normal" transform="rotate(-90 952.4 676.5)">(% of ZT8-12)</text>
<text font-size="28.8" text-anchor="middle" font-weight="normal" transform="translate(1160 511) scale(1 1.03)">Day 1</text>
<text font-size="28.8" text-anchor="middle" font-weight="normal" transform="translate(1391 510.5) scale(1 1.03)">Day 2</text>
<text font-size="28.8" text-anchor="middle" font-weight="normal" transform="translate(1625.9 508.5) scale(1 1.03)">Day 3</text>
</g>
</svg></body></html>
